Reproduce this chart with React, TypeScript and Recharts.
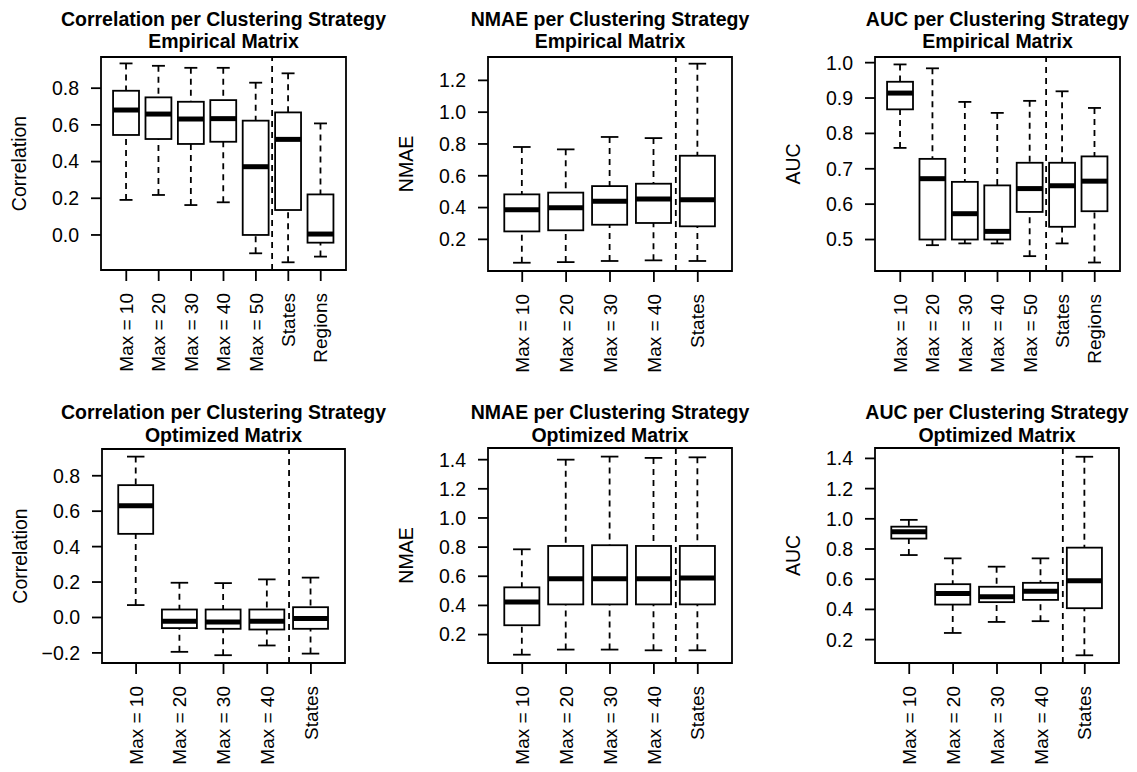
import React from "react";
import { ComposedChart, Bar, XAxis, YAxis, ReferenceArea, ReferenceLine } from "recharts";

const FONT = "'Liberation Sans', Arial, Helvetica, sans-serif";

const CATS_FULL = ["Max = 10", "Max = 20", "Max = 30", "Max = 40", "Max = 50", "States", "Regions"];
const CATS_SHORT = ["Max = 10", "Max = 20", "Max = 30", "Max = 40", "States"];

// each row: [lower whisker, Q1, median, Q3, upper whisker]
const EMP_CORR = [
  [0.191, 0.545, 0.681, 0.786, 0.935],
  [0.218, 0.523, 0.659, 0.75, 0.922],
  [0.163, 0.496, 0.632, 0.726, 0.911],
  [0.178, 0.508, 0.634, 0.735, 0.911],
  [-0.1, 0.0, 0.372, 0.623, 0.83],
  [-0.149, 0.136, 0.521, 0.668, 0.881],
  [-0.118, -0.042, 0.005, 0.221, 0.608],
];
const EMP_NMAE = [
  [0.053, 0.25, 0.387, 0.483, 0.781],
  [0.057, 0.257, 0.399, 0.494, 0.766],
  [0.064, 0.292, 0.439, 0.535, 0.844],
  [0.068, 0.303, 0.454, 0.55, 0.837],
  [0.064, 0.282, 0.449, 0.726, 1.305],
];
const EMP_AUC = [
  [0.759, 0.868, 0.914, 0.946, 0.995],
  [0.484, 0.5, 0.672, 0.728, 0.984],
  [0.489, 0.5, 0.573, 0.663, 0.889],
  [0.489, 0.5, 0.523, 0.653, 0.858],
  [0.453, 0.578, 0.644, 0.717, 0.892],
  [0.489, 0.536, 0.652, 0.717, 0.919],
  [0.435, 0.58, 0.665, 0.735, 0.872],
];
const OPT_CORR = [
  [0.07, 0.472, 0.63, 0.747, 0.908],
  [-0.194, -0.06, -0.021, 0.045, 0.196],
  [-0.213, -0.064, -0.026, 0.045, 0.194],
  [-0.158, -0.068, -0.021, 0.045, 0.215],
  [-0.204, -0.064, -0.006, 0.058, 0.225],
];
const OPT_NMAE = [
  [0.062, 0.264, 0.423, 0.524, 0.785],
  [0.097, 0.407, 0.583, 0.808, 1.4],
  [0.097, 0.407, 0.583, 0.813, 1.421],
  [0.092, 0.407, 0.583, 0.808, 1.412],
  [0.092, 0.407, 0.588, 0.808, 1.416],
];
const OPT_AUC = [
  [0.76, 0.869, 0.915, 0.948, 0.993],
  [0.244, 0.432, 0.505, 0.567, 0.738],
  [0.317, 0.448, 0.483, 0.55, 0.683],
  [0.322, 0.463, 0.521, 0.576, 0.738],
  [0.096, 0.408, 0.59, 0.809, 1.411],
];

const TICKS_EMP_CORR = [0, 0.2, 0.4, 0.6, 0.8];
const TICKS_EMP_NMAE = [0.2, 0.4, 0.6, 0.8, 1.0, 1.2];
const TICKS_EMP_AUC = [0.5, 0.6, 0.7, 0.8, 0.9, 1.0];
const TICKS_OPT_CORR = [-0.2, 0, 0.2, 0.4, 0.6, 0.8];
const TICKS_OPT = [0.2, 0.4, 0.6, 0.8, 1.0, 1.2, 1.4];

const PANELS = [
  { title: "Correlation per Clustering Strategy", sub: "Empirical Matrix", ylab: "Correlation", cats: CATS_FULL, stats: EMP_CORR, ticks: TICKS_EMP_CORR, domain: [-0.191, 0.97], sep: 5.5, col: 0, row: 0, left: 101, right: 346, top: 57, bottom: 270, t1: 26, t2: 47.5 },
  { title: "NMAE per Clustering Strategy", sub: "Empirical Matrix", ylab: "NMAE", cats: CATS_SHORT, stats: EMP_NMAE, ticks: TICKS_EMP_NMAE, domain: [0.001, 1.347], sep: 4.5, col: 1, row: 0, left: 109, right: 353, top: 57, bottom: 271, t1: 26, t2: 47.5 },
  { title: "AUC per Clustering Strategy", sub: "Empirical Matrix", ylab: "AUC", cats: CATS_FULL, stats: EMP_AUC, ticks: TICKS_EMP_AUC, domain: [0.411, 1.016], sep: 5.5, col: 2, row: 0, left: 117, right: 362, top: 57, bottom: 271, t1: 26, t2: 47.5 },
  { title: "Correlation per Clustering Strategy", sub: "Optimized Matrix", ylab: "Correlation", cats: CATS_SHORT, stats: OPT_CORR, ticks: TICKS_OPT_CORR, domain: [-0.257, 0.951], sep: 4.5, col: 0, row: 1, left: 102, right: 345, top: 63, bottom: 277, t1: 33, t2: 56 },
  { title: "NMAE per Clustering Strategy", sub: "Optimized Matrix", ylab: "NMAE", cats: CATS_SHORT, stats: OPT_NMAE, ticks: TICKS_OPT, domain: [0.005, 1.48], sep: 4.5, col: 1, row: 1, left: 109, right: 353, top: 62, bottom: 277, t1: 33, t2: 56 },
  { title: "AUC per Clustering Strategy", sub: "Optimized Matrix", ylab: "AUC", cats: CATS_SHORT, stats: OPT_AUC, ticks: TICKS_OPT, domain: [0.045, 1.469], sep: 4.5, col: 2, row: 1, left: 117, right: 361, top: 62, bottom: 277, t1: 33, t2: 56 },
];

const PW = 379;
const PH = 386;
const LW = 1.8;

const fmt = (v: number) => v.toFixed(1).replace("-", "\u2212");

function BoxShape(props: any) {
  const { x, y, width, height, payload } = props;
  if (!payload) return null;
  const { lo, q1, med, q3, hi } = payload;
  const top = Math.min(y, y + height);
  const bot = Math.max(y, y + height);
  const k = (bot - top) / (hi - lo);
  const py = (v: number) => top + (hi - v) * k;
  const cx = x + width / 2;
  const cap = width / 4;
  return (
    <g stroke="#000" fill="none">
      <line x1={cx} x2={cx} y1={py(hi)} y2={py(q3)} strokeWidth={LW} strokeDasharray="6 5" />
      <line x1={cx} x2={cx} y1={py(lo)} y2={py(q1)} strokeWidth={LW} strokeDasharray="6 5" />
      <line x1={cx - cap} x2={cx + cap} y1={py(hi)} y2={py(hi)} strokeWidth={LW} />
      <line x1={cx - cap} x2={cx + cap} y1={py(lo)} y2={py(lo)} strokeWidth={LW} />
      <rect x={x} y={py(q3)} width={width} height={py(q1) - py(q3)} strokeWidth={LW} fill="#fff" />
      <line x1={x} x2={x + width} y1={py(med)} y2={py(med)} strokeWidth={5} />
    </g>
  );
}

function RotTick(props: any) {
  const { x, y, payload, labels } = props;
  return (
    <text x={x} y={y} transform={`rotate(-90 ${x} ${y})`} textAnchor="end" dy="0.35em"
      fontSize={19} fontFamily={FONT} fill="#000">
      {labels[payload.value - 1]}
    </text>
  );
}

function Panel({ p }: { p: (typeof PANELS)[number] }) {
  const data = p.cats.map((name, i) => {
    const s = p.stats[i];
    return { pos: i + 1, name, lo: s[0], q1: s[1], med: s[2], q3: s[3], hi: s[4] };
  });
  const n = p.cats.length;
  const w = p.right - p.left;
  const unit = w / (n + 0.56);
  return (
    <div style={{ position: "absolute", left: p.col * PW, top: p.row * PH, width: PW, height: PH }}>
      <ComposedChart width={PW} height={PH} data={data}
        margin={{ top: p.top, right: PW - p.right, bottom: 0, left: 0 }}>
        <XAxis dataKey="pos" type="number" domain={[0.22, n + 0.78]} allowDataOverflow
          ticks={data.map((d) => d.pos)} interval={0} height={PH - p.bottom}
          axisLine={false} tickSize={11} tickMargin={12} tickLine={{ stroke: "#000", strokeWidth: LW }}
          tick={<RotTick labels={p.cats} />} />
        <YAxis type="number" domain={p.domain} allowDataOverflow ticks={p.ticks} interval={0} width={p.left}
          tickFormatter={fmt} axisLine={false} tickSize={10} tickMargin={12}
          tickLine={{ stroke: "#000", strokeWidth: LW }}
          tick={{ fontSize: 19.5, fill: "#000", fontFamily: FONT }} />
        <ReferenceLine x={p.sep} stroke="#000" strokeWidth={LW} strokeDasharray="6 5" />
        <Bar dataKey={(d: any) => [d.lo, d.hi]} barSize={unit * 0.8} shape={<BoxShape />} isAnimationActive={false} />
        <ReferenceArea x1={0.22} x2={n + 0.78} y1={p.domain[0]} y2={p.domain[1]}
          fill="none" fillOpacity={0} stroke="#000" strokeWidth={LW} ifOverflow="visible" />
      </ComposedChart>
      <svg width={PW} height={PH} style={{ position: "absolute", left: 0, top: 0, overflow: "visible", pointerEvents: "none" }}>
        <text x={(p.left + p.right) / 2} y={p.t1} textAnchor="middle" fontSize={19.5} fontWeight="bold" fontFamily={FONT}>{p.title}</text>
        <text x={(p.left + p.right) / 2} y={p.t2} textAnchor="middle" fontSize={19.5} fontWeight="bold" fontFamily={FONT}>{p.sub}</text>
        <text x={p.left - 82} y={(p.top + p.bottom) / 2} transform={`rotate(-90 ${p.left - 82} ${(p.top + p.bottom) / 2})`}
          textAnchor="middle" dy="0.35em" fontSize={19.5} fontFamily={FONT}>{p.ylab}</text>
      </svg>
    </div>
  );
}

export default function App() {
  return (
    <div style={{ position: "absolute", left: 0, top: 0, width: 1137, height: 772, background: "#fff" }}>
      {PANELS.map((p, i) => (
        <Panel key={i} p={p} />
      ))}
    </div>
  );
}
